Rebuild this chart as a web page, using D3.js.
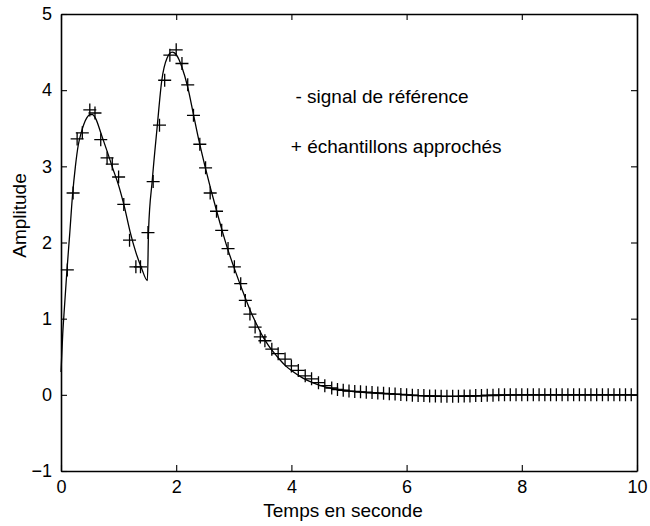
<!DOCTYPE html>
<html>
<head>
<meta charset="utf-8">
<script src="https://cdn.jsdelivr.net/npm/d3@7"></script>
<style>
  html, body { margin: 0; padding: 0; background: #fff; }
  svg { display: block; font-family: Arial, "Liberation Sans", sans-serif; }
</style>
</head>
<body>
<svg id="chart" width="650" height="526"></svg>
<script>
// Reference signal (continuous line)
const refT = [0, 0.03, 0.06, 0.1, 0.15, 0.2, 0.25, 0.3, 0.35, 0.4, 0.45, 0.5, 0.55, 0.6, 0.7, 0.8, 0.9, 1.0, 1.1, 1.2, 1.3, 1.4, 1.5,
  1.52, 1.585, 1.67, 1.75, 1.84, 1.93, 1.97, 2.05, 2.1, 2.2, 2.3, 2.4, 2.5, 2.6, 2.7, 2.8, 2.9, 3.0, 3.1, 3.2, 3.3, 3.4, 3.5,
  3.6, 3.7, 3.8, 3.9, 4.0, 4.2, 4.4, 4.6, 4.8, 5.0, 5.5, 6.0, 6.5, 7.0, 7.5, 8.0, 9.0, 10.0];
const refY = [0.3, 0.8, 1.15, 1.6, 2.1, 2.62, 3.0, 3.28, 3.44, 3.56, 3.64, 3.68, 3.68, 3.63, 3.42, 3.2, 2.97, 2.75, 2.47, 2.14, 1.87, 1.66, 1.5,
  2.16, 2.82, 3.52, 4.13, 4.42, 4.5, 4.49, 4.4, 4.3, 4.04, 3.68, 3.32, 3.0, 2.7, 2.42, 2.15, 1.9, 1.68, 1.47, 1.27, 1.08, 0.92, 0.77,
  0.65, 0.55, 0.46, 0.38, 0.32, 0.22, 0.15, 0.1, 0.07, 0.05, 0.02, 0.0, -0.02, -0.02, -0.01, 0.0, 0.0, 0.0];

// Approximated samples (+ markers)
const sampT = [0.11, 0.21, 0.28, 0.37, 0.5, 0.59, 0.69, 0.8, 0.89, 1.0, 1.09, 1.19, 1.3, 1.38, 1.51, 1.6, 1.71, 1.8, 1.89, 2.0,
  2.1, 2.2, 2.3, 2.41, 2.51, 2.59, 2.7, 2.79, 2.9, 3.01, 3.12, 3.2, 3.28, 3.37, 3.46, 3.54, 3.66, 3.77, 3.89, 4.0,
  4.12, 4.24, 4.35, 4.47, 4.58, 4.7, 4.8, 4.9, 5.0, 5.1, 5.2, 5.3, 5.4, 5.5, 5.6, 5.7, 5.8, 5.9, 6.0,
  6.1, 6.2, 6.3, 6.4, 6.5, 6.6, 6.7, 6.8, 6.9, 7.0, 7.1, 7.2, 7.3, 7.4, 7.5, 7.6, 7.7, 7.8, 7.9, 8.0,
  8.1, 8.2, 8.3, 8.4, 8.5, 8.6, 8.7, 8.8, 8.9, 9.0, 9.1, 9.2, 9.3, 9.4, 9.5, 9.6, 9.7, 9.8, 9.9];
const sampY = [1.64, 2.65, 3.36, 3.44, 3.74, 3.7, 3.35, 3.11, 3.03, 2.86, 2.5, 2.03, 1.68, 1.68, 2.13, 2.8, 3.54, 4.13, 4.46, 4.53,
  4.35, 4.07, 3.67, 3.29, 2.98, 2.65, 2.41, 2.16, 1.92, 1.68, 1.46, 1.24, 1.06, 0.89, 0.76, 0.71, 0.6, 0.54, 0.47, 0.38,
  0.32, 0.25, 0.21, 0.16, 0.12, 0.09, 0.07, 0.06, 0.05, 0.045, 0.04, 0.035, 0.03, 0.025, 0.02, 0.015, 0.01, 0.005, 0.0,
  -0.005, -0.01, -0.01, -0.015, -0.015, -0.02, -0.02, -0.02, -0.02, -0.015, -0.015, -0.01, -0.01, -0.005, -0.005, 0.0, 0.0, 0.0, 0.0, 0.0,
  0.0, 0.0, 0.0, 0.0, 0.0, 0.0, 0.0, 0.0, 0.0, 0.0, 0.0, 0.0, 0.0, 0.0, 0.0, 0.0, 0.0, 0.0, 0.0];

const xTicks = [0, 2, 4, 6, 8, 10];
const yTicks = [-1, 0, 1, 2, 3, 4, 5];
const xLabel = "Temps en seconde";
const yLabel = "Amplitude";
const legendLines = ["- signal de référence", "+ échantillons approchés"];

const W = 650, H = 526;
const margin = { left: 61, right: 13, top: 14, bottom: 55 };
const iw = W - margin.left - margin.right;
const ih = H - margin.top - margin.bottom;

const svg = d3.select("#chart");
const g = svg.append("g").attr("transform", `translate(${margin.left},${margin.top})`);

const x = d3.scaleLinear().domain([0, 10]).range([0, iw]);
const y = d3.scaleLinear().domain([-1, 5]).range([ih, 0]);

const fontSize = 18;
const labelSize = 19;
const tickLen = 6;

// Axes (ticks inward, box on all sides)
const axB = d3.axisBottom(x).tickValues(xTicks).tickSizeInner(-tickLen).tickSizeOuter(0).tickPadding(9).tickFormat(d3.format("d"));
const axL = d3.axisLeft(y).tickValues(yTicks).tickSizeInner(-tickLen).tickSizeOuter(0).tickPadding(9).tickFormat(d3.format("d"));
const axT = d3.axisTop(x).tickValues(xTicks).tickSizeInner(-tickLen).tickSizeOuter(0).tickFormat("");
const axR = d3.axisRight(y).tickValues(yTicks).tickSizeInner(-tickLen).tickSizeOuter(0).tickFormat("");

function style(sel) {
  sel.selectAll("path.domain").attr("stroke", "#000").attr("stroke-width", 1.6);
  sel.selectAll(".tick line").attr("stroke", "#000").attr("stroke-width", 1.1);
  sel.selectAll(".tick text").attr("fill", "#000").style("font-size", fontSize + "px")
    .style("font-family", 'Arial, "Liberation Sans", sans-serif');
}

g.append("g").attr("transform", `translate(0,${ih})`).call(axB).call(style);
g.append("g").call(axL).call(style);
g.append("g").call(axT).call(style);
g.append("g").attr("transform", `translate(${iw},0)`).call(axR).call(style);

// Reference line
const refData = refT.map((t, i) => [t, refY[i]]);
g.append("path")
  .datum(refData)
  .attr("fill", "none")
  .attr("stroke", "#000")
  .attr("stroke-width", 1.3)
  .attr("d", d3.line().x(d => x(d[0])).y(d => y(d[1])).curve(d3.curveMonotoneX));

// Sample markers
const sampData = sampT.map((t, i) => [t, sampY[i]]);
const arm = 6.5;
const mk = g.append("g").attr("stroke", "#000").attr("stroke-width", 1.3);
mk.selectAll("path.plus").data(sampData).enter().append("path")
  .attr("class", "plus")
  .attr("d", d => {
    const cx = x(d[0]), cy = y(d[1]);
    return `M${cx - arm},${cy}H${cx + arm}M${cx},${cy - arm}V${cy + arm}`;
  });

// Legend-like annotations
g.append("text").attr("x", x(4.07)).attr("y", y(3.92) + 7).attr("fill", "#000")
  .style("font-size", labelSize + "px").text(legendLines[0]);
g.append("text").attr("x", x(3.99)).attr("y", y(3.27) + 7).attr("fill", "#000")
  .style("font-size", labelSize + "px").text(legendLines[1]);

// Axis labels
svg.append("text").attr("x", margin.left + iw / 2 - 6).attr("y", H - 9)
  .attr("text-anchor", "middle").attr("fill", "#000")
  .style("font-size", labelSize + "px").text(xLabel);
svg.append("text").attr("transform", `translate(26,${margin.top + ih / 2 - 27}) rotate(-90)`)
  .attr("text-anchor", "middle").attr("fill", "#000")
  .style("font-size", labelSize + "px").text(yLabel);
</script>
</body>
</html>
